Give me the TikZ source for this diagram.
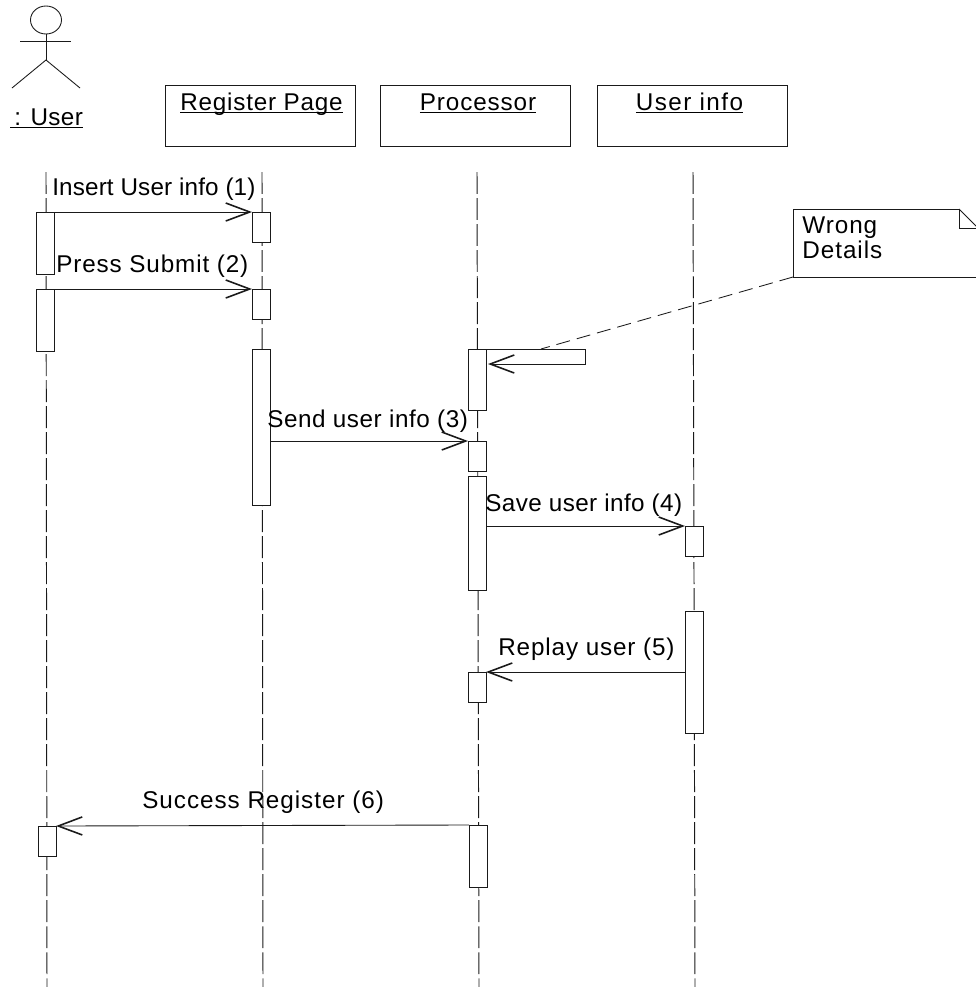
\documentclass[tikz,border=0pt]{standalone}
\usepackage{fontspec}
\setmainfont{Liberation Sans}
\usetikzlibrary{arrows.meta,shapes.geometric}
\definecolor{ink}{HTML}{1A1A1A}
\tikzset{
  lifeline/.style={ink,line width=0.55pt,dash pattern=on 12.5pt off 2.3pt},
  act/.style={draw=ink,fill=white,line width=0.5pt,inner sep=0pt,outer sep=0pt,anchor=north west,minimum width=3.6mm},
  objbox/.style={draw=ink,line width=0.5pt,inner sep=0pt,outer sep=0pt,minimum width=38mm,minimum height=12.2mm},
  msg/.style={draw=ink,line width=0.5pt,-{Straight Barb[length=4.8mm,width=3.6mm,line width=0.9pt]}},
  lbl/.style={text=black,font=\fontsize{13.8}{16.5}\selectfont\addfontfeature{LetterSpace=#1},inner sep=0pt,anchor=base west},
  lbl/.default=3,
  objlbl/.style={lbl=#1,anchor=base},
  thin line/.style={draw=ink,line width=0.5pt}
}
\begin{document}
\begin{tikzpicture}[x=0.2mm,y=-0.2mm]
    \useasboundingbox (0,0) rectangle (975,987);
    % actor
    \node[thin line,ellipse,inner sep=0pt,minimum width=6.2mm,minimum height=5.6mm] (head) at (46,20) {};
    \coordinate (hip) at (46,60);
    \coordinate (armL) at (20,41);
    \coordinate (armR) at (71,41);
    \coordinate (legL) at (12,88);
    \coordinate (legR) at (80,88);
    \draw[thin line] (head.south) -- (hip);
    \draw[thin line] (armL) -- (armR);
    \draw[thin line] (legL) -- (hip) -- (legR);
    \node[lbl=1.5] (userlbl) at (10,125) {\underline{\smash{\,: User}}};
    % object boxes
    \node[objbox] (regbox) at (260,116) {};
    \node[objbox] (procbox) at (475,116) {};
    \node[objbox] (infobox) at (692,116) {};
    \node[objlbl=3.2] (reglbl) at (261.5,110) {\underline{\smash{Register Page}}};
    \node[objlbl=3.7] (proclbl) at (478,110) {\underline{\smash{Processor}}};
    \node[objlbl=6] (infolbl) at (689.5,110) {\underline{\smash{User info}}};
    % lifelines
    \coordinate (userT) at (46,172);
    \coordinate (regT) at (262,172);
    \coordinate (procT) at (477,172);
    \coordinate (infoT) at (693,172);
    \coordinate (userB) at (47,987);
    \coordinate (regB) at (263,987);
    \coordinate (procB) at (479,987);
    \coordinate (infoB) at (695,987);
    \draw[lifeline] (userT) -- (userB);
    \draw[lifeline] (regT) -- (regB);
    \draw[lifeline] (procT) -- (procB);
    \draw[lifeline] (infoT) -- (infoB);
    % activations
    \node[act,minimum height=12.4mm] (ua) at (36,212) {};
    \node[act,minimum height=12.4mm] (ub) at (36,289) {};
    \node[act,minimum height=6mm] (uc) at (38,826) {};
    \node[act,minimum height=6mm] (ra) at (252,212) {};
    \node[act,minimum height=6mm] (rb) at (252,289) {};
    \node[act,minimum height=31.2mm] (rc) at (252,349) {};
    \node[act,minimum height=12.2mm] (pa) at (468,349) {};
    \node[act,minimum height=6mm] (pb) at (468,441) {};
    \node[act,minimum height=22.8mm] (pc) at (468,476) {};
    \node[act,minimum height=6mm] (pd) at (468,672) {};
    \node[act,minimum height=12.4mm] (pe) at (469,825) {};
    \node[act,minimum height=6mm] (ia) at (685,526) {};
    \node[act,minimum height=24.4mm] (ib) at (685,611) {};
    % messages
    \draw[msg] (ua.north east) -- (ra.north west);
    \draw[msg] (ub.north east) -- (rb.north west);
    \draw[msg] (rc.east |- pb.north west) -- (pb.north west);
    \draw[msg] (pc.east |- ia.north west) -- (ia.north west);
    \draw[msg] (ib.west |- pd.north east) -- (pd.north east);
    \draw[msg] (pe.north west) -- (uc.north east);
    \coordinate (selfA) at (585,349);
    \coordinate (selfB) at (585,364);
    \coordinate (selfEnd) at (488,364);
    \draw[msg] (pa.north east) -- (selfA) -- (selfB) -- (selfEnd);
    \node[lbl=0.6] (m1) at (52,195) {Insert User info (1)};
    \node[lbl=3.6] (m2) at (56,272) {Press Submit (2)};
    \node[lbl=2.3] (m3) at (267,427) {Send user info (3)};
    \node[lbl=1.6] (m4) at (485,511) {Save user info (4)};
    \node[lbl=3.6] (m5) at (498,655) {Replay user (5)};
    \node[lbl=4] (m6) at (142,808) {Success Register (6)};
    % note
    \coordinate (noteNW) at (793,209);
    \coordinate (noteSW) at (793,277);
    \coordinate (noteSE) at (985,277);
    \coordinate (foldA) at (959,209);
    \coordinate (foldB) at (959,228);
    \coordinate (foldC) at (985,228);
    \coordinate (foldD) at (985,235);
    \coordinate (noteAnchor) at (541,349);
    \draw[thin line] (noteSE) -- (noteSW) -- (noteNW) -- (foldA) -- (foldB) -- (foldC);
    \draw[thin line] (foldA) -- (foldD);
    \node[lbl=4,anchor=north west,align=left,font=\fontsize{13.8}{14.7}\selectfont\addfontfeature{LetterSpace=4}] (notelbl) at (802,216) {Wrong\\Details};
    \draw[thin line,dash pattern=on 8pt off 4pt] (noteSW) -- (noteAnchor);
\end{tikzpicture}
\end{document}
